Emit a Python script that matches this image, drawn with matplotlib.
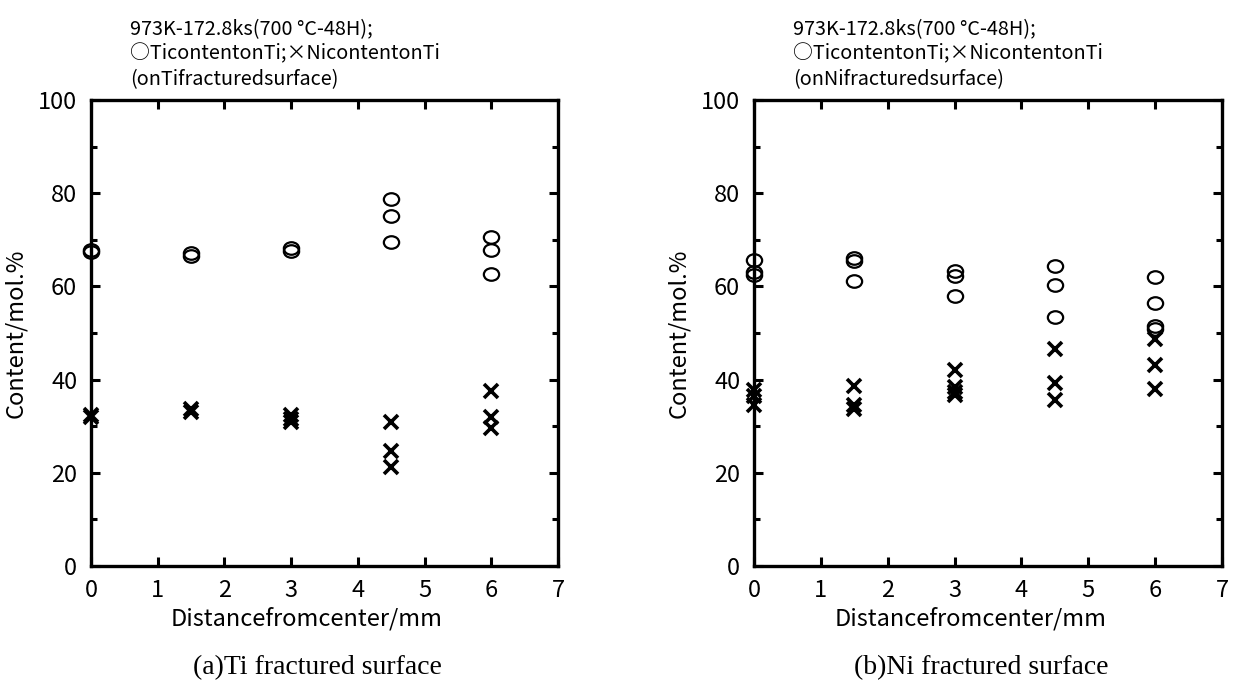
import matplotlib
matplotlib.use("Agg")
import matplotlib.pyplot as plt
from matplotlib.ticker import MultipleLocator
from matplotlib.path import Path
from matplotlib.transforms import Affine2D

plt.rcParams['font.family'] = ['Noto Sans CJK JP', 'DejaVu Sans']

# (a) Ti fractured surface
ti_x_ti = [0, 0, 1.5, 1.5, 3, 3, 4.5, 4.5, 4.5, 6, 6, 6]
ti_y_ti = [67.8, 67.3, 67.2, 66.6, 68.3, 67.6, 78.7, 75.2, 69.6, 70.6, 67.8, 62.6]
ti_x_ni = [0, 0, 1.5, 1.5, 3, 3, 3, 4.5, 4.5, 4.5, 6, 6, 6]
ti_y_ni = [32.5, 32.0, 33.6, 33.1, 32.5, 31.6, 31.0, 30.8, 24.6, 21.2, 37.6, 32.0, 29.6]

# (b) Ni fractured surface
ni_x_ti = [0, 0, 0, 1.5, 1.5, 1.5, 3, 3, 3, 4.5, 4.5, 4.5, 6, 6, 6, 6]
ni_y_ti = [65.6, 63.0, 62.5, 66.2, 65.4, 61.1, 63.3, 62.2, 57.9, 64.3, 60.3, 53.4, 62.0, 56.5, 51.5, 50.8]
ni_x_ni = [0, 0, 0, 1.5, 1.5, 1.5, 3, 3, 3, 3, 4.5, 4.5, 4.5, 6, 6, 6]
ni_y_ni = [37.8, 36.4, 34.6, 38.7, 34.6, 33.7, 42.0, 38.4, 37.4, 36.8, 46.6, 39.3, 35.7, 48.8, 43.2, 38.0]

titles = ["973K-172.8ks(700 °C-48H);\n○TicontentonTi;×NicontentonTi\n(onTifracturedsurface)",
          "973K-172.8ks(700 °C-48H);\n○TicontentonTi;×NicontentonTi\n(onNifracturedsurface)"]
captions = ["(a)Ti fractured surface", "(b)Ni fractured surface"]

# slightly flattened open circle, like the original symbols
ellipse = Path.unit_circle().transformed(Affine2D().scale(1.0, 0.82))

fig = plt.figure(figsize=(12.4, 6.83), dpi=100)
ax1 = fig.add_axes([0.0734, 0.1713, 0.3766, 0.6823])
ax2 = fig.add_axes([0.6081, 0.1713, 0.3774, 0.6823])

data = [(ti_x_ti, ti_y_ti, ti_x_ni, ti_y_ni), (ni_x_ti, ni_y_ti, ni_x_ni, ni_y_ni)]

for ax, (xt, yt, xn, yn), title, cap in zip([ax1, ax2], data, titles, captions):
    ax.plot(xt, yt, linestyle='none', marker=ellipse, ms=11, mfc='none',
            mec='black', mew=1.6, clip_on=False)
    ax.plot(xn, yn, 'x', ms=9.5, mec='black', mew=2.6, clip_on=False)
    ax.set_xlim(0, 7)
    ax.set_ylim(0, 100)
    ax.xaxis.set_major_locator(MultipleLocator(1))
    ax.yaxis.set_major_locator(MultipleLocator(20))
    ax.yaxis.set_minor_locator(MultipleLocator(10))
    ax.tick_params(which='both', direction='in', top=True, right=True,
                   width=2.2, labelsize=17)
    ax.tick_params(which='major', length=6.5)
    ax.tick_params(which='minor', length=4)
    ax.tick_params(axis='x', pad=9)
    ax.tick_params(axis='y', pad=10)
    for s in ax.spines.values():
        s.set_linewidth(2.4)
    ax.set_xlabel("Distancefromcenter/mm", fontsize=17)
    ax.xaxis.set_label_coords(0.462, -0.088)
    ax.set_ylabel("Content/mol.%", fontsize=17, labelpad=8)
    ax.text(0.084, 1.022, title, transform=ax.transAxes, fontsize=14.3,
            ha='left', va='bottom', linespacing=1.25)
    ax.text(0.485, -0.219, cap, transform=ax.transAxes, fontsize=20,
            family='Liberation Serif', ha='center', va='center')

fig.savefig("out.png", dpi=100)
